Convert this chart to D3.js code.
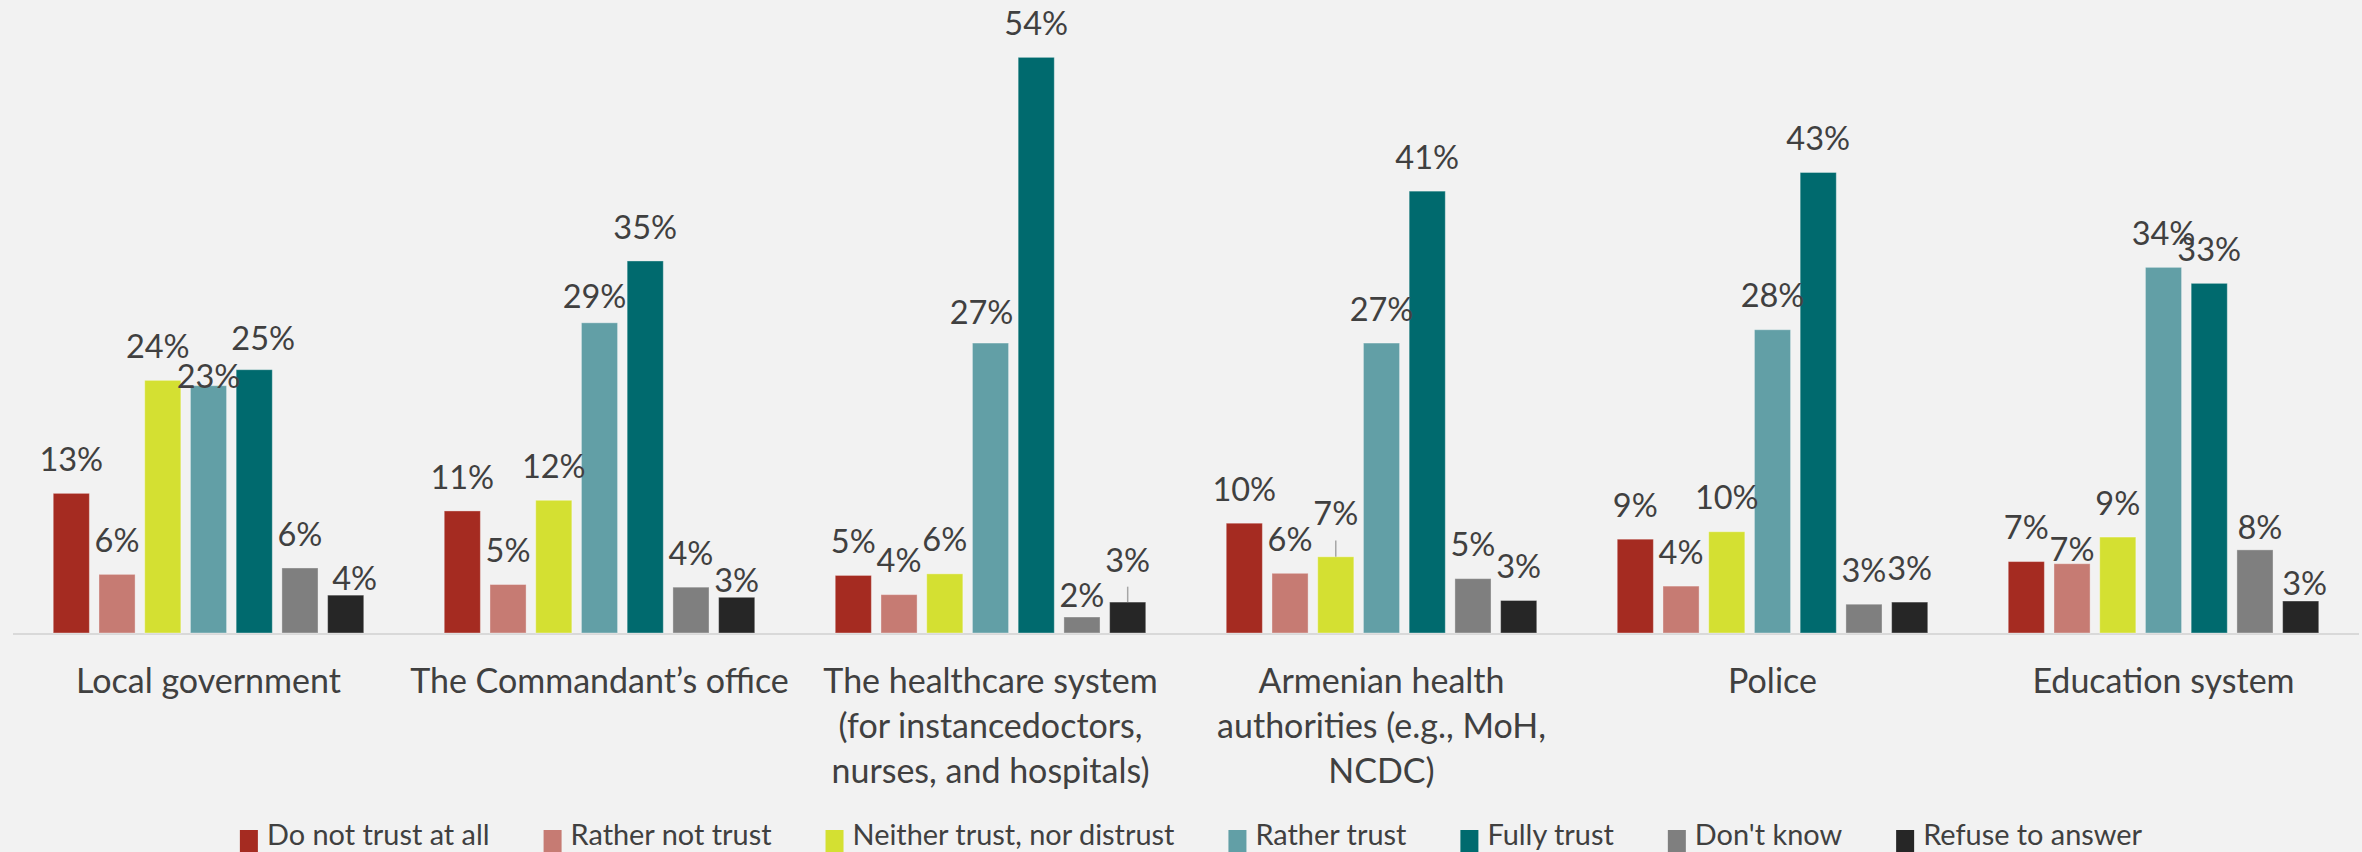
<!DOCTYPE html>
<html>
<head>
<meta charset="utf-8">
<script src="https://cdn.jsdelivr.net/npm/d3@7"></script>
<style>
  html, body { margin: 0; padding: 0; background: #f2f2f2; }
  svg { display: block; }
</style>
</head>
<body>
<div id="main_output"></div>
<script>
// trust in institutions, share of respondents (%)
const categories = [
  "Local government",
  "The Commandant’s office",
  "The healthcare system\n(for instancedoctors,\nnurses, and hospitals)",
  "Armenian health\nauthorities (e.g., MoH,\nNCDC)",
  "Police",
  "Education system"
];
const seriesNames = ["Do not trust at all", "Rather not trust", "Neither trust, nor distrust",
                     "Rather trust", "Fully trust", "Don't know", "Refuse to answer"];

const doNotTrust     = [13.1, 11.45, 5.4, 10.3, 8.8, 6.7];
const ratherNotTrust = [5.5, 4.55, 3.6, 5.6, 4.4, 6.5];
const neitherTrust   = [23.7, 12.45, 5.55, 7.15, 9.5, 9.0];
const ratherTrust    = [23.2, 29.1, 27.2, 27.2, 28.45, 34.3];
const fullyTrust     = [24.7, 34.9, 54.0, 41.45, 43.2, 32.8];
const dontKnow       = [6.1, 4.3, 1.5, 5.1, 2.7, 7.8];
const refuseAnswer   = [3.55, 3.35, 2.9, 3.05, 2.9, 3.0];

const seriesValues = [doNotTrust, ratherNotTrust, neitherTrust, ratherTrust, fullyTrust, dontKnow, refuseAnswer];
const colours = ["#a52b21", "#c67b73", "#d4e032", "#629fa6", "#006a6e", "#7f7f7f", "#262626"];

// labels that were dragged by hand in the original (px, "group,series")
const labelNudge = {
  "0,2": [-5, 0], "0,3": [0, 25], "0,4": [9, 3], "0,6": [9, 17],
  "1,3": [-5, 8], "1,6": [0, 17],
  "2,3": [-9, 3], "2,5": [0, 12], "2,6": [0, -8],
  "3,2": [0, -9],
  "5,1": [0, 20], "5,5": [5, 12], "5,6": [4, 16]
};

const width = 2362, height = 852;
const textColour = "#404040";
const font = "Lato, 'Open Sans', sans-serif";

const svg = d3.select("#main_output").append("svg")
    .attr("width", width)
    .attr("height", height)
    .style("background", "#f2f2f2");

const x0 = d3.scaleBand().domain(d3.range(categories.length)).range([13, 2359]);
const x1 = d3.scaleBand().domain(d3.range(seriesNames.length))
    .range([0, x0.bandwidth()])
    .paddingInner(0.21)
    .paddingOuter(0.88);
const y = d3.scaleLinear().domain([0, 60]).range([633, 633 - 60 * 10.66]);

var rows = [];
categories.forEach(function(c, g) {
  seriesValues.forEach(function(vals, s) {
    rows.push({g: g, s: s, v: vals[g]});
  });
});

// axis line
svg.append("line")
    .attr("x1", x0.range()[0]).attr("x2", x0.range()[1])
    .attr("y1", y(0) + 1).attr("y2", y(0) + 1)
    .style("stroke", "#d9d9d9")
    .style("stroke-width", 2);

var groups = svg.selectAll(".group")
    .data(categories)
    .enter().append("g")
    .attr("class", "group")
    .attr("transform", function(d, i) { return "translate(" + x0(i) + ",0)"; });

groups.selectAll("rect")
    .data(function(d, g) { return rows.filter(function(r) { return r.g === g; }); })
    .enter().append("rect")
    .attr("x", function(d) { return x1(d.s); })
    .attr("width", x1.bandwidth())
    .attr("y", function(d) { return y(d.v); })
    .attr("height", function(d) { return y(0) - y(d.v); })
    .attr("fill", function(d) { return colours[d.s]; })
    .style("stroke", "rgba(255,255,255,0.35)")
    .style("stroke-width", 1);

function nudge(d) { return labelNudge[d.g + "," + d.s] || [0, 0]; }

// leader lines for labels pulled up from their bar
groups.selectAll(".leader")
    .data(function(d, g) { return rows.filter(function(r) { return r.g === g && nudge(r)[1] < 0; }); })
    .enter().append("line")
    .attr("class", "leader")
    .attr("x1", function(d) { return x1(d.s) + x1.bandwidth() / 2; })
    .attr("x2", function(d) { return x1(d.s) + x1.bandwidth() / 2; })
    .attr("y1", function(d) { return y(d.v) - 22.4 + nudge(d)[1] + 15; })
    .attr("y2", function(d) { return y(d.v); })
    .style("stroke", "#a6a6a6")
    .style("stroke-width", 1.5);

groups.selectAll(".value")
    .data(function(d, g) { return rows.filter(function(r) { return r.g === g; }); })
    .enter().append("text")
    .attr("class", "value")
    .attr("x", function(d) { return x1(d.s) + x1.bandwidth() / 2 + nudge(d)[0]; })
    .attr("y", function(d) { return y(d.v) - 22.4 + nudge(d)[1]; })
    .attr("text-anchor", "middle")
    .style("font-family", font)
    .style("font-size", "32.5px")
    .style("fill", textColour)
    .text(function(d) { return Math.round(d.v) + "%"; });

// category labels
groups.append("text")
    .attr("class", "category")
    .attr("text-anchor", "middle")
    .style("font-family", font)
    .style("font-size", "34px")
    .style("fill", textColour)
    .each(function(d) {
      var t = d3.select(this);
      d.split("\n").forEach(function(line, i) {
        t.append("tspan")
          .attr("x", x0.bandwidth() / 2)
          .attr("y", 693 + i * 45)
          .text(line);
      });
    });

// legend, tight against the bottom edge
var legend = svg.append("g").attr("class", "legend");
var items = legend.selectAll(".item")
    .data(seriesNames)
    .enter().append("g")
    .attr("class", "item");

items.append("rect")
    .attr("x", 0).attr("y", 830)
    .attr("width", 18).attr("height", 22)
    .attr("fill", function(d, i) { return colours[i]; });

items.append("text")
    .attr("x", 27).attr("y", 845)
    .style("font-family", font)
    .style("font-size", "28.9px")
    .style("fill", textColour)
    .text(function(d) { return d; });

var offsets = [], cursor = 0;
items.each(function() {
  offsets.push(cursor);
  cursor += 27 + d3.select(this).select("text").node().getComputedTextLength() + 54;
});
var legendWidth = cursor - 54;
var legendStart = 1191 - legendWidth / 2;
items.attr("transform", function(d, i) { return "translate(" + (legendStart + offsets[i]) + ",0)"; });
</script>
</body>
</html>
